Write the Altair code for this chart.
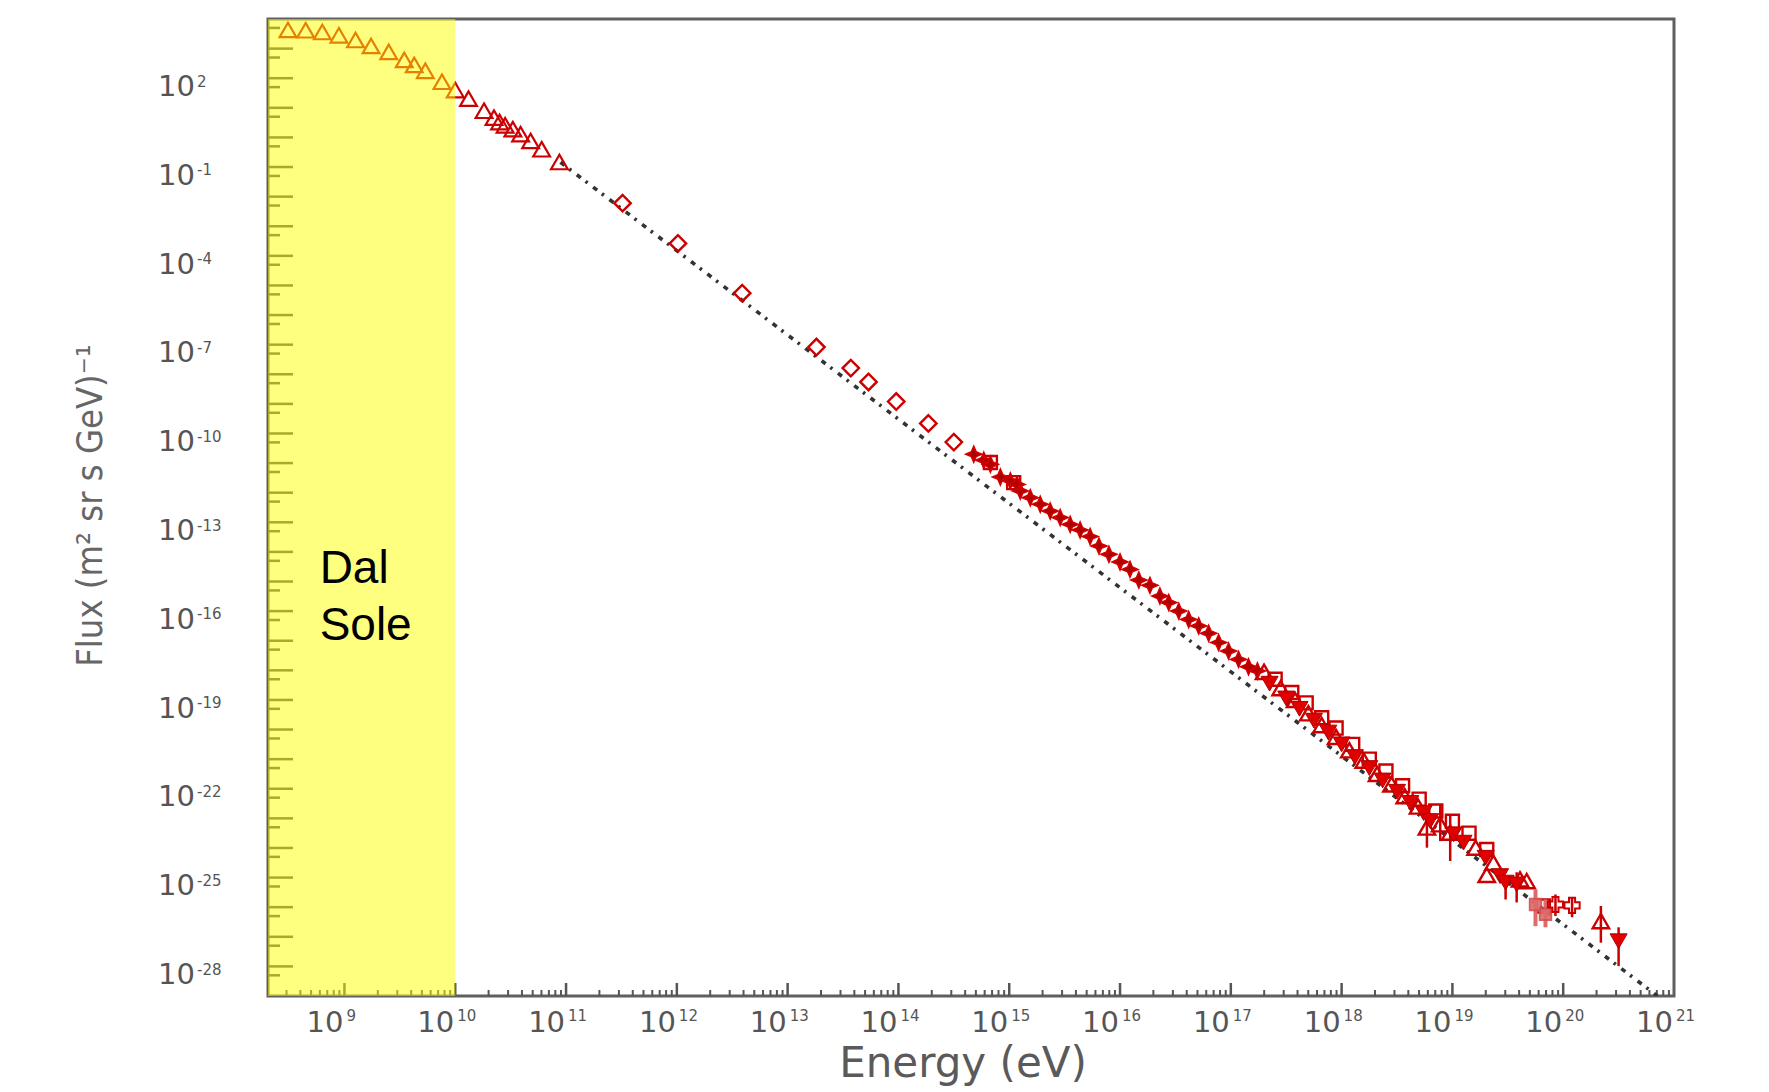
import altair as alt
import pandas as pd

# ---------------- values (log10 E [eV], log10 flux) ----------------
TRI_LOGE = [8.49, 8.65, 8.80, 8.95, 9.10, 9.24, 9.40, 9.54, 9.63, 9.73, 9.88, 10.00,
            10.12, 10.26, 10.35, 10.40, 10.45, 10.52, 10.59, 10.68, 10.78, 10.94]
TRI_LOGF = [3.63, 3.62, 3.56, 3.45, 3.29, 3.09, 2.89, 2.62, 2.45, 2.25, 1.88, 1.60,
            1.31, 0.90, 0.67, 0.52, 0.41, 0.28, 0.11, -0.12, -0.40, -0.83]

DIAM_LOGE = [11.51, 12.01, 12.59, 13.26, 13.57, 13.73, 13.98, 14.27, 14.50]
DIAM_LOGF = [-2.22, -3.58, -5.26, -7.08, -7.79, -8.26, -8.92, -9.66, -10.29]

STAR_LOGE = [14.68, 14.77, 14.83, 14.92, 15.01, 15.07, 15.10, 15.19, 15.28, 15.37, 15.46,
             15.55, 15.64, 15.73, 15.81, 15.90, 16.00, 16.09, 16.17, 16.27, 16.36, 16.44,
             16.53, 16.62, 16.71, 16.80, 16.89, 16.98, 17.07, 17.16, 17.24]
STAR_LOGF = [-10.70, -10.90, -11.04, -11.47, -11.60, -11.72, -11.94, -12.17, -12.39, -12.62,
             -12.84, -13.07, -13.26, -13.48, -13.80, -14.08, -14.34, -14.59, -14.95, -15.13,
             -15.49, -15.71, -16.00, -16.28, -16.50, -16.75, -17.06, -17.35, -17.63, -17.88,
             -18.02]

DOWN_LOGE = [17.35, 17.50, 17.62, 17.75, 17.88, 18.00, 18.12, 18.25, 18.37, 18.50, 18.62,
             18.74, 18.80, 19.01, 19.10, 19.30, 19.43, 19.48, 19.58, 20.50]
DOWN_LOGF = [-18.45, -18.95, -19.30, -19.70, -20.10, -20.50, -20.93, -21.30, -21.72, -22.10,
             -22.48, -22.82, -23.09, -23.54, -23.82, -24.33, -24.95, -25.17, -25.23, -27.15]

UP_LOGE = [17.30, 17.45, 17.58, 17.70, 17.82, 17.95, 18.07, 18.20, 18.32, 18.45, 18.57,
           18.69, 18.77, 18.89, 18.98, 19.21, 19.31, 19.37, 19.61, 19.67, 20.34]
UP_LOGF = [-18.05, -18.60, -19.00, -19.45, -19.85, -20.25, -20.70, -21.05, -21.50, -21.85,
           -22.25, -22.60, -23.31, -23.20, -23.48, -23.99, -24.91, -24.50, -25.06, -25.12,
           -26.47]

SQ_LOGE = [14.83, 15.04, 17.40, 17.55, 17.68, 17.82, 17.95, 18.10, 18.25, 18.40, 18.55,
           18.70, 18.85, 19.00, 19.15, 19.31, 19.82]
SQ_LOGF = [-10.98, -11.66, -18.30, -18.75, -19.10, -19.60, -19.95, -20.50, -21.00, -21.40,
           -21.90, -22.35, -22.75, -23.10, -23.50, -24.05, -25.96]

CROSS_LOGE = [19.93, 20.08]
CROSS_LOGF = [-25.91, -25.94]

PINK_LOGE = [19.75, 19.84]
PINK_LOGF = [-25.91, -26.24]

ERR_LOGE = [18.77, 18.89, 18.98, 19.48, 19.58, 19.93, 20.08, 20.34, 20.50]
ERR_LO = [-23.99, -23.77, -24.44, -25.74, -25.84, -26.30, -26.34, -27.20, -27.99]
ERR_HI = [-22.58, -22.53, -22.86, -25.16, -24.82, -25.57, -25.67, -25.96, -26.68]

PINK_ERR_LO = [-26.64, -26.68]
PINK_ERR_HI = [-25.40, -25.74]

# dotted reference power law (end points)
LINE_LOGE = [10.95, 20.85]
LINE_LOGF = [-0.84, -29.0]

# axes
X_DOMAIN_LOG = [8.31, 21.0]
Y_DOMAIN_LOG = [-29.0, 4.0]
X_LABEL_EXP = list(range(9, 22))
Y_LABEL_EXP = list(range(2, -29, -3))
X_MAJOR_EXP = list(range(9, 21))
Y_MAJOR_EXP = list(range(-28, 4))
Y_MINOR_EXP = list(range(-29, 4))  # ticks at 5 x 10^n

SHADE_LOGE = [8.31, 10.0]
NOTE_LOGE = [8.776]
NOTE_LOGF = [-15.06]
NOTE_TEXT = ["Dal\nSole"]

X_TITLE = "Energy (eV)"
Y_TITLE = "Flux (m\u00b2 sr s GeV)\u207b\u00b9"

# ---------------- layout ----------------
W, H = 1406, 977
LABEL_FONT = "DejaVu Sans"
GREY = "#555555"
RED = "#cc0000"


def df(loge, logf):
    return pd.DataFrame({"E": [10 ** v for v in loge], "F": [10 ** v for v in logf]})


xsc = alt.Scale(type="log", domain=[10 ** X_DOMAIN_LOG[0], 10 ** X_DOMAIN_LOG[1]], nice=False)
ysc = alt.Scale(type="log", domain=[10 ** Y_DOMAIN_LOG[0], 10 ** Y_DOMAIN_LOG[1]], nice=False)
X = alt.X("E:Q", scale=xsc, axis=None)
Y = alt.Y("F:Q", scale=ysc, axis=None)

# ticks
minor_x = []
for n in range(8, 21):
    for k in range(2, 10):
        v = k * 10 ** n
        if 10 ** X_DOMAIN_LOG[0] <= v <= 10 ** X_DOMAIN_LOG[1]:
            minor_x.append(v)
xmaj = pd.DataFrame({"E": [10 ** n for n in X_MAJOR_EXP]})
xmin = pd.DataFrame({"E": minor_x})
ymaj = pd.DataFrame({"F": [10.0 ** n for n in Y_MAJOR_EXP]})
ymin = pd.DataFrame({"F": [5 * 10.0 ** n for n in Y_MINOR_EXP]})

tick_xmaj = alt.Chart(xmaj).mark_rule(color=GREY, strokeWidth=2.5).encode(
    x=X, y=alt.value(H), y2=alt.value(H - 13))
tick_xmin = alt.Chart(xmin).mark_rule(color=GREY, strokeWidth=2).encode(
    x=X, y=alt.value(H), y2=alt.value(H - 6))
tick_ymaj = alt.Chart(ymaj).mark_rule(color=GREY, strokeWidth=2.5).encode(
    y=Y, x=alt.value(0), x2=alt.value(25))
tick_ymin = alt.Chart(ymin).mark_rule(color=GREY, strokeWidth=2.5).encode(
    y=Y, x=alt.value(0), x2=alt.value(12))

# dotted line
line = alt.Chart(df(LINE_LOGE, LINE_LOGF)).mark_line(
    color="#333333", strokeWidth=3.6, strokeDash=[5, 6, 2.5, 7], clip=True).encode(x=X, y=Y)

# data
tri = alt.Chart(df(TRI_LOGE, TRI_LOGF)).mark_point(
    shape="triangle-up", filled=False, color=RED, strokeWidth=2.2, size=280, opacity=1).encode(x=X, y=Y)
diam = alt.Chart(df(DIAM_LOGE, DIAM_LOGF)).mark_point(
    shape="diamond", filled=False, color=RED, strokeWidth=2.4, size=270, opacity=1).encode(x=X, y=Y)
STAR_PATH = "M0,-1L0.3,-0.3L1,0L0.3,0.3L0,1L-0.3,0.3L-1,0L-0.3,-0.3Z"
star = alt.Chart(df(STAR_LOGE, STAR_LOGF)).mark_point(
    shape=STAR_PATH, filled=True, fill="#b00000", stroke="#d40000", strokeWidth=1.5,
    size=260, opacity=1).encode(x=X, y=Y)
sq = alt.Chart(df(SQ_LOGE, SQ_LOGF)).mark_point(
    shape="square", filled=False, color=RED, strokeWidth=2.4, size=170, opacity=1).encode(x=X, y=Y)
up = alt.Chart(df(UP_LOGE, UP_LOGF)).mark_point(
    shape="triangle-up", filled=False, color=RED, strokeWidth=2.4, size=270, opacity=1).encode(x=X, y=Y)
down = alt.Chart(df(DOWN_LOGE, DOWN_LOGF)).mark_point(
    shape="triangle-down", filled=True, fill="#e00000", stroke="#b00000", strokeWidth=1,
    size=290, opacity=1).encode(x=X, y=Y)
cross = alt.Chart(df(CROSS_LOGE, CROSS_LOGF)).mark_point(
    shape="cross", filled=False, color=RED, strokeWidth=2, size=230, opacity=1).encode(x=X, y=Y)
pink = alt.Chart(df(PINK_LOGE, PINK_LOGF)).mark_point(
    shape="square", filled=True, fill="#e06a6a", stroke="#d05050", size=130, opacity=0.9).encode(x=X, y=Y)

err = pd.DataFrame({"E": [10 ** v for v in ERR_LOGE],
                    "F": [10 ** v for v in ERR_LO],
                    "F2": [10 ** v for v in ERR_HI]})
errbars = alt.Chart(err).mark_rule(color=RED, strokeWidth=2.5).encode(x=X, y=Y, y2="F2:Q")
perr = pd.DataFrame({"E": [10 ** v for v in PINK_LOGE],
                     "F": [10 ** v for v in PINK_ERR_LO],
                     "F2": [10 ** v for v in PINK_ERR_HI]})
pinkbars = alt.Chart(perr).mark_rule(color="#e06a6a", strokeWidth=4).encode(x=X, y=Y, y2="F2:Q")

# yellow "Dal Sole" band (translucent overlay)
shade = pd.DataFrame({"E": [10 ** SHADE_LOGE[0]], "E2": [10 ** SHADE_LOGE[1]],
                      "F": [10 ** Y_DOMAIN_LOG[0]], "F2": [10 ** Y_DOMAIN_LOG[1]]})
band = alt.Chart(shade).mark_rect(color="#ffff00", opacity=0.5).encode(
    x=X, x2="E2:Q", y=Y, y2="F2:Q")

note = alt.Chart(pd.DataFrame({"E": [10 ** v for v in NOTE_LOGE],
                               "F": [10 ** v for v in NOTE_LOGF],
                               "t": NOTE_TEXT})).mark_text(
    align="left", baseline="alphabetic", font="Liberation Sans", fontSize=46,
    color="black", lineBreak="\n", lineHeight=57).encode(x=X, y=Y, text="t:N")

# tick labels (10 with raised exponent)
xl = pd.DataFrame({"E": [10.0 ** n for n in X_LABEL_EXP],
                   "b": ["10"] * len(X_LABEL_EXP),
                   "e": [str(n) for n in X_LABEL_EXP]})
xl_base = alt.Chart(xl).mark_text(align="right", baseline="alphabetic", font=LABEL_FONT,
                                  fontSize=29, color=GREY, dx=-1).encode(
    x=X, y=alt.value(H + 36), text="b:N")
xl_exp = alt.Chart(xl).mark_text(align="left", baseline="alphabetic", font=LABEL_FONT,
                                 fontSize=15, color=GREY, dx=2).encode(
    x=X, y=alt.value(H + 25), text="e:N")

yl = pd.DataFrame({"F": [10.0 ** n for n in Y_LABEL_EXP],
                   "b": ["10"] * len(Y_LABEL_EXP),
                   "e": [str(n) for n in Y_LABEL_EXP]})
yl_base = alt.Chart(yl).mark_text(align="left", baseline="alphabetic", font=LABEL_FONT,
                                  fontSize=29, color=GREY, dy=17.7).encode(
    x=alt.value(-110), y=Y, text="b:N")
yl_exp = alt.Chart(yl).mark_text(align="left", baseline="alphabetic", font=LABEL_FONT,
                                 fontSize=15, color=GREY, dy=8.3).encode(
    x=alt.value(-71), y=Y, text="e:N")

one = pd.DataFrame({"t": [0]})
xtitle = alt.Chart(one).mark_text(align="center", baseline="alphabetic", font=LABEL_FONT,
                                  fontSize=42, color="#5a5a5a").encode(
    x=alt.value(W / 2 - 8), y=alt.value(H + 81), text=alt.value(X_TITLE))
ytitle = alt.Chart(one).mark_text(
    align="center", baseline="alphabetic", angle=270,
    font="DejaVu Sans Condensed, Liberation Sans Narrow, DejaVu Sans",
    fontSize=36, color="#666666").encode(
    x=alt.value(-166), y=alt.value(H / 2 - 2), text=alt.value(Y_TITLE))

chart = alt.layer(
    tick_xmin, tick_xmaj, tick_ymin, tick_ymaj,
    line, tri, diam, star, sq, up, errbars, pinkbars, pink, down, cross,
    band, note, xl_base, xl_exp, yl_base, yl_exp, xtitle, ytitle,
).properties(
    width=W, height=H,
    padding={"left": 268, "top": 19, "right": 95, "bottom": 96},
    autosize=alt.AutoSizeParams(type="none"),
    background="white",
).configure_view(stroke="#5f5f5f", strokeWidth=3)

chart.save("out.html", embed_options={"renderer": "svg", "actions": False})
